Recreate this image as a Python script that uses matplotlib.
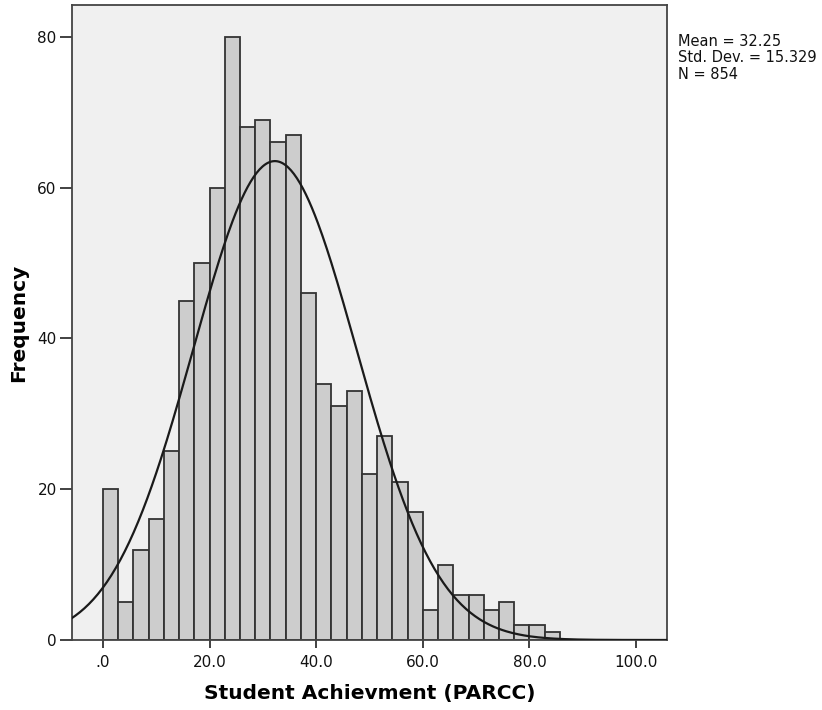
import numpy as np
import matplotlib
matplotlib.use("Agg")
import matplotlib.pyplot as plt

# histogram of PARCC scores, 30 bins from 0 to ~85.7
bin_width = 85.714 / 30
counts = [20, 5, 12, 16, 25, 45, 50, 60, 80, 68,
          69, 66, 67, 46, 34, 31, 33, 22, 27, 21,
          17, 4, 10, 6, 6, 4, 5, 2, 2, 1]
x_ticks = [0, 20, 40, 60, 80, 100]
x_tick_labels = [".0", "20.0", "40.0", "60.0", "80.0", "100.0"]
y_ticks = [0, 20, 40, 60, 80]

mean = 32.25
std = 15.329
n = 854

edges = np.arange(len(counts)) * bin_width

fig = plt.figure(figsize=(8.22, 7.10), dpi=100)
ax = fig.add_axes([72 / 822, 1 - 640 / 710, (667 - 72) / 822, (640 - 5) / 710])
ax.set_facecolor("#f0f0f0")

ax.bar(edges, counts, width=bin_width, align="edge",
       color="#cdcdcd", edgecolor="#333333", linewidth=1.3, zorder=2)

# normal curve from the stated mean / sd, scaled to counts
xs = np.linspace(-6, 106, 400)
ys = n * bin_width * np.exp(-0.5 * ((xs - mean) / std) ** 2) / (std * np.sqrt(2 * np.pi))
ax.plot(xs, ys, color="#1a1a1a", linewidth=1.6, zorder=3)

ax.set_xlim(-5.8, 105.8)
ax.set_ylim(0, 84.2)
ax.set_xticks(x_ticks)
ax.set_xticklabels(x_tick_labels)
ax.set_yticks(y_ticks)
ax.tick_params(direction="out", width=1.3, color="#333333",
               labelsize=11, labelcolor="#111111")
ax.tick_params(axis="y", length=9, pad=2)
ax.tick_params(axis="x", length=6, pad=5)

for s in ax.spines.values():
    s.set_color("#444444")
    s.set_linewidth(1.3)

ax.set_xlabel("Student Achievment (PARCC)", fontsize=14.5, fontweight="bold", labelpad=10)
ax.set_ylabel("Frequency", fontsize=14.5, fontweight="bold", labelpad=7)

fig.text(678 / 822, 1 - 58 / 710, "Mean = 32.25\nStd. Dev. = 15.329\nN = 854",
         fontsize=10.5, va="center", ha="left", linespacing=1.1, color="#111111")

fig.savefig("out.png", dpi=100)
